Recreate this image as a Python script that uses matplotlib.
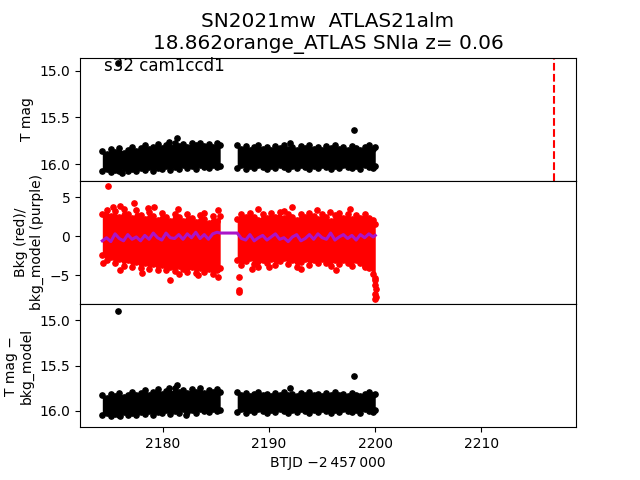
import matplotlib
matplotlib.use("Agg")
import matplotlib.pyplot as plt

# ---- data (BTJD - 2457000) ----
t1 = [2174.3, 2174.7, 2175.1, 2175.5, 2175.9, 2176.3, 2176.7, 2177.1, 2177.5, 2177.9,
      2178.3, 2178.7, 2179.1, 2179.5, 2179.9, 2180.3, 2180.7, 2181.1, 2181.5, 2181.9,
      2182.3, 2182.7, 2183.1, 2183.5, 2183.9, 2184.3, 2184.7, 2185.1, 2185.4]
t2 = [2187.0, 2187.4, 2187.8, 2188.2, 2188.6, 2189.0, 2189.4, 2189.8, 2190.2, 2190.6,
      2191.0, 2191.4, 2191.8, 2192.2, 2192.6, 2193.0, 2193.4, 2193.8, 2194.2, 2194.6,
      2195.0, 2195.4, 2195.8, 2196.2, 2196.6, 2197.0, 2197.4, 2197.8, 2198.2, 2198.6,
      2199.0, 2199.4, 2199.8, 2200.0]

# T mag band (bright edge / faint edge)
mag1_hi = [15.86, 15.89, 15.84, 15.87, 15.83, 15.88, 15.85, 15.82, 15.86, 15.83, 15.80, 15.84,
           15.82, 15.79, 15.83, 15.80, 15.82, 15.78, 15.81, 15.79, 15.82, 15.78, 15.80, 15.77,
           15.81, 15.79, 15.82, 15.78, 15.80]
mag1_lo = [16.08, 16.05, 16.09, 16.06, 16.08, 16.04, 16.07, 16.05, 16.08, 16.04, 16.06, 16.03,
           16.07, 16.04, 16.05, 16.02, 16.06, 16.03, 16.05, 16.01, 16.04, 16.02, 16.05, 16.01,
           16.03, 16.04, 16.01, 16.03, 16.02]
mag2_hi = [15.80, 15.84, 15.81, 15.85, 15.82, 15.80, 15.84, 15.82, 15.85, 15.81, 15.83, 15.80,
           15.84, 15.82, 15.85, 15.81, 15.83, 15.80, 15.84, 15.82, 15.85, 15.81, 15.83, 15.80,
           15.84, 15.82, 15.85, 15.81, 15.83, 15.85, 15.82, 15.80, 15.84, 15.82]
mag2_lo = [16.04, 16.01, 16.05, 16.02, 16.04, 16.01, 16.03, 16.05, 16.02, 16.04, 16.01, 16.03,
           16.05, 16.02, 16.04, 16.01, 16.03, 16.05, 16.02, 16.04, 16.01, 16.03, 16.05, 16.02,
           16.04, 16.01, 16.03, 16.04, 16.02, 16.05, 16.01, 16.03, 16.04, 16.02]
mag_out_t = [2175.8, 2180.6, 2181.3, 2192.0, 2198.0, 2176.2]
mag_out_y = [14.92, 15.76, 15.72, 15.78, 15.64, 16.10]

# background (red band) and background model (purple)
bkg1_hi = [2.8, 3.4, 2.6, 3.2, 2.4, 3.5, 2.9, 2.3, 3.3, 2.7, 2.2, 3.1, 2.6, 2.1, 3.0, 2.5,
           2.0, 2.9, 2.4, 1.9, 2.8, 2.3, 1.8, 2.7, 2.2, 1.7, 2.6, 2.0, 2.6]
bkg1_lo = [-2.4, -3.0, -2.7, -3.5, -2.9, -3.8, -3.1, -3.9, -3.3, -4.1, -3.4, -4.2, -3.6, -4.3,
           -3.7, -4.4, -3.9, -4.5, -3.8, -4.2, -4.6, -4.0, -4.7, -4.1, -4.6, -4.2, -4.8, -4.3, -4.1]
bkg2_hi = [2.2, 2.9, 2.4, 3.0, 2.5, 2.1, 2.8, 2.3, 3.0, 2.5, 3.1, 2.3, 2.8, 2.4, 2.1, 2.9,
           2.4, 3.0, 2.6, 2.2, 2.9, 2.4, 2.0, 2.7, 3.0, 2.3, 2.8, 2.2, 2.7, 2.3, 2.9, 2.3, 2.1, 1.6]
bkg2_lo = [-3.0, -3.7, -3.2, -2.8, -3.6, -3.9, -3.0, -3.5, -2.9, -3.7, -3.2, -2.8, -3.6, -3.1,
           -3.9, -3.3, -2.9, -3.7, -3.1, -3.5, -2.9, -3.4, -3.8, -3.1, -3.6, -3.0, -3.4, -3.8,
           -3.1, -3.5, -3.9, -4.1, -4.8, -5.4]
bkg_out_t = [2174.8, 2177.3, 2176.0, 2179.2, 2181.4, 2185.2, 2176.0, 2178.0, 2180.7, 2181.5,
             2183.3, 2185.2, 2174.4, 2187.2, 2187.2, 2187.2, 2189.0, 2192.2, 2191.4, 2194.5,
             2197.6, 2196.3, 2199.0, 2190.0, 2193.0, 2200.0, 2200.0, 2200.05, 2200.0, 2200.05,
             2199.95, 2175.3, 2178.6, 2183.9, 2188.4, 2195.7]
bkg_out_y = [6.4, 4.2, 3.9, 3.7, 3.5, 3.4, -4.4, -4.7, -5.6, -4.9,
             -5.0, -5.2, -3.4, -5.3, -6.9, -7.1, 3.5, 3.8, 3.2, 3.4,
             3.5, -4.3, -3.8, -4.0, -4.2, -5.6, -6.2, -6.8, -7.4, -7.8,
             -8.0, 3.8, 3.6, 3.0, -4.2, 3.1]
model1 = [-0.6, -0.2, -0.7, 0.3, -0.3, -0.6, 0.2, -0.4, -0.1, -0.6, 0.1, -0.4, 0.4, -0.2,
          -0.5, 0.4, -0.2, -0.3, 0.2, -0.4, 0.3, -0.2, 0.5, -0.3, 0.2, -0.4, 0.3, 0.5, 0.4]
model2 = [0.4, -0.3, -0.5, 0.2, -0.6, -0.2, 0.1, -0.5, -0.1, 0.3, -0.4, -0.2, -0.7, -0.1,
          0.2, -0.6, -0.3, 0.2, -0.4, 0.3, -0.2, -0.4, 0.4, -0.5, -0.1, 0.2, -0.3, 0.1, -0.5,
          0.2, -0.2, 0.3, -0.1, 0.1]

# T mag - bkg_model band
dif1_hi = [15.83, 15.86, 15.81, 15.84, 15.80, 15.85, 15.82, 15.79, 15.83, 15.80, 15.77, 15.82,
           15.79, 15.76, 15.81, 15.78, 15.80, 15.75, 15.79, 15.77, 15.80, 15.76, 15.79, 15.75,
           15.80, 15.77, 15.79, 15.76, 15.79]
dif1_lo = [16.05, 16.02, 16.06, 16.03, 16.05, 16.01, 16.04, 16.02, 16.05, 16.01, 16.03, 16.00,
           16.04, 16.01, 16.02, 15.99, 16.03, 16.00, 16.02, 15.98, 16.01, 15.99, 16.02, 15.98,
           16.00, 16.01, 15.98, 16.00, 15.99]
dif2_hi = [15.79, 15.83, 15.80, 15.84, 15.81, 15.79, 15.83, 15.81, 15.84, 15.80, 15.82, 15.79,
           15.83, 15.81, 15.84, 15.80, 15.82, 15.79, 15.83, 15.81, 15.84, 15.80, 15.82, 15.79,
           15.83, 15.81, 15.84, 15.80, 15.82, 15.84, 15.81, 15.79, 15.83, 15.81]
dif2_lo = [16.01, 15.98, 16.02, 15.99, 16.01, 15.98, 16.00, 16.02, 15.99, 16.01, 15.98, 16.00,
           16.02, 15.99, 16.01, 15.98, 16.00, 16.02, 15.99, 16.01, 15.98, 16.00, 16.02, 15.99,
           16.01, 15.98, 16.00, 16.01, 15.99, 16.02, 15.98, 16.00, 16.01, 15.99]
dif_out_t = [2175.8, 2181.3, 2180.6, 2192.0, 2198.0, 2182.2, 2176.0]
dif_out_y = [14.90, 15.71, 15.75, 15.75, 15.62, 16.04, 16.06]

t_peak = 2216.8
title = "SN2021mw  ATLAS21alm\n18.862orange_ATLAS SNIa z= 0.06"
sector_label = "s32 cam1ccd1"

# ---- plot ----
fig, axes = plt.subplots(3, 1, sharex=True, figsize=(6.4, 4.8), dpi=100,
                         gridspec_kw=dict(hspace=0))
ax1, ax2, ax3 = axes
ms = 3.8


def band(ax, t, hi, lo, color):
    ax.fill_between(t, hi, lo, color=color, lw=0)
    ax.plot(t, hi, 'o', color=color, ms=ms, ls='none')
    ax.plot(t, lo, 'o', color=color, ms=ms, ls='none')


band(ax1, t1, mag1_hi, mag1_lo, 'k')
band(ax1, t2, mag2_hi, mag2_lo, 'k')
ax1.plot(mag_out_t, mag_out_y, 'o', color='k', ms=ms, ls='none')
ax1.axvline(t_peak, color='red', ls='--', lw=1.5)
ax1.set_ylim(16.18, 14.86)
ax1.set_yticks([15.0, 15.5, 16.0])
ax1.set_ylabel("T mag")
ax1.text(2174.5, 15.0, sector_label, fontsize=12)
ax1.set_title(title, fontsize=14.4)

band(ax2, t1, bkg1_hi, bkg1_lo, 'red')
band(ax2, t2, bkg2_hi, bkg2_lo, 'red')
ax2.plot(bkg_out_t, bkg_out_y, 'o', color='red', ms=ms, ls='none')
ax2.plot(t1 + t2, model1 + model2, '-', color='#aa14c8', lw=2.2)
ax2.set_ylim(-8.7, 7.1)
ax2.set_yticks([5, 0, -5])
ax2.set_ylabel("Bkg (red)/\nbkg_model (purple)")

band(ax3, t1, dif1_hi, dif1_lo, 'k')
band(ax3, t2, dif2_hi, dif2_lo, 'k')
ax3.plot(dif_out_t, dif_out_y, 'o', color='k', ms=ms, ls='none')
ax3.set_ylim(16.18, 14.82)
ax3.set_yticks([15.0, 15.5, 16.0])
ax3.set_ylabel("T mag \u2212\nbkg_model")

ax3.set_xlim(2172.2, 2218.9)
ax3.set_xticks([2180, 2190, 2200, 2210])
ax3.set_xlabel("BTJD \u22122\u2009457\u2009000")
for ax in (ax1, ax2):
    ax.tick_params(axis='x', bottom=False)

fig.savefig("out.png", dpi=100)
